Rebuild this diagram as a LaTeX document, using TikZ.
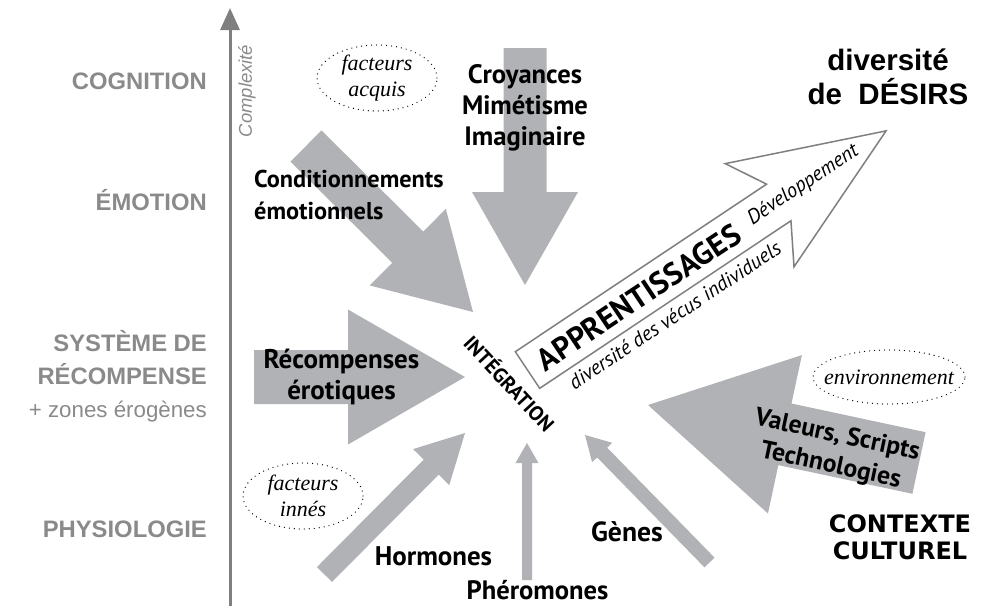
\documentclass[tikz,border=0pt]{standalone}
\usepackage{fontspec}
\usepackage{xcolor}
\definecolor{arrowGray}{HTML}{B1B2B5}
\definecolor{levelGray}{HTML}{8A8A8A}
\definecolor{axisGray}{HTML}{7F7F7F}
\newfontfamily\arialfont{Liberation Sans}
\newfontfamily\myriadfont{PT Sans}
\newfontfamily\timesfont{Liberation Serif}
\newfontfamily\widefont{DejaVu Sans}
\usetikzlibrary{positioning,arrows.meta,shapes.geometric,calc}

% block arrow from tail to tip: shaft half width, head half width, head length
\newcommand{\blockarrow}[5]{%
  \fill[arrowfill] let \p1=($(#2)-(#1)$), \n1={veclen(\x1,\y1)}, \n2={atan2(\y1,\x1)} in
    [shift={(#1)}, rotate=\n2]
    (0pt,#3pt) -- (\n1-#5pt,#3pt) -- (\n1-#5pt,#4pt) -- (\n1,0pt)
    -- (\n1-#5pt,-#4pt) -- (\n1-#5pt,-#3pt) -- (0pt,-#3pt) -- cycle;}
\newcommand{\fsz}[2]{\fontsize{#1}{#2}\selectfont}

\begin{document}
\begin{tikzpicture}[x=1pt, y=-1pt,
    arrowfill/.style={fill=arrowGray},
    axisline/.style={draw=axisGray, line width=3pt, -{Triangle[length=22pt,width=19pt]}},
    level/.style={font=\arialfont\bfseries\fsz{23.8}{28},
                  text=levelGray, anchor=base east, inner sep=0pt},
    sublevel/.style={font=\arialfont\fsz{22.3}{26},
                  text=levelGray, anchor=base east, inner sep=0pt},
    factor/.style={align=center, inner sep=0pt,
                   font=\timesfont\itshape\fsz{22}{26}},
    dots/.style={draw, line width=1.3pt, dash pattern=on 0pt off 5pt, line cap=round},
    influence/.style 2 args={font=\myriadfont\bfseries\fsz{#1}{#2},
                             inner sep=0pt, align=center},
    learntext/.style 2 args={font=\myriadfont#1\fsz{#2}{#2}, inner sep=0pt},
    bigtitle/.style={font=\arialfont\bfseries\fsz{29.5}{34},
                     inner sep=0pt, align=center},
    learnarrow/.style={draw=axisGray, fill=white, line width=1.5pt, line join=miter}]
  \useasboundingbox (0,0) rectangle (993,606);

  % axis of complexity
  \coordinate (axisbot) at (230,606);
  \coordinate (axistop) at (230,8);
  \draw[axisline] (axisbot) -- (axistop);
  \node[font=\arialfont\itshape\fsz{18.5}{20}, text=levelGray,
        rotate=90, inner sep=0pt] (cplx) at (247,91) {Complexité};

  % levels
  \node[level] (cog) at (207,89.3) {COGNITION};
  \node[level] (emo) at (207,210) {ÉMOTION};
  \node[level] (sys) at (207,351.7) {SYSTÈME DE};
  \node[level] (rec) at (207,384.3) {RÉCOMPENSE};
  \node[sublevel] (zon) at (207,417.7) {+ zones érogènes};
  \node[level] (phy) at (207,537.3) {PHYSIOLOGIE};

  % gray arrows towards the integration
  \coordinate (condTail) at (306,146);   \coordinate (condTip) at (473,312);
  \coordinate (croyTail) at (525,48);    \coordinate (croyTip) at (525,285);
  \coordinate (recTail) at (254,377);    \coordinate (recTip) at (465,377);
  \coordinate (hormTail) at (324.5,574.5); \coordinate (hormTip) at (465,433);
  \coordinate (pherTail) at (527,580);   \coordinate (pherTip) at (527,443);
  \coordinate (genTail) at (709.5,562.5); \coordinate (genTip) at (585,435);
  \coordinate (valTail) at (919,463);    \coordinate (valTip) at (648,405);
  \blockarrow{condTail}{condTip}{22}{54}{92}
  \blockarrow{croyTail}{croyTip}{21.5}{53}{93}
  \blockarrow{recTail}{recTip}{27}{67.5}{117}
  \blockarrow{hormTail}{hormTip}{10.6}{25.5}{48}
  \blockarrow{pherTail}{pherTip}{5}{11.5}{20}
  \blockarrow{genTail}{genTip}{7}{14}{24.5}
  \blockarrow{valTail}{valTip}{31.5}{81}{140}

  % factors
  \node[factor] (acquis) at (377,78) {facteurs\\acquis};
  \draw[dots] (acquis.center) ellipse [x radius=60pt, y radius=33pt];
  \node[factor] (innes) at (303,496) {facteurs\\innés};
  \draw[dots] (innes.center) ellipse [x radius=60pt, y radius=33pt];
  \node[factor] (envir) at (889,377) {environnement};
  \draw[dots] (envir.center) ellipse [x radius=76pt, y radius=27pt];

  % influences
  \node[influence={26.6}{31.2}] (croy) at (525,108) {Croyances\\Mimétisme\\Imaginaire};
  \node[influence={24.3}{31.6}, align=left, anchor=west] (cond) at (254,195) {Conditionnements\\émotionnels};
  \node[influence={27}{31}] (recomp) at (341.5,377) {Récompenses\\érotiques};
  \node[influence={26.9}{30}, anchor=base] (horm) at (433.5,565) {Hormones};
  \node[influence={26.6}{30}, anchor=base] (pher) at (537.5,599) {Phéromones};
  \node[influence={27.7}{30}, anchor=base] (gen) at (627,541.7) {Gènes};
  \node[influence={25.6}{31}, rotate=-12] (val) at (834,451) {Valeurs, Scripts\\Technologies};
  \node[influence={24}{27}, font=\widefont\bfseries\fsz{24}{27}] (ctx) at (900,537) {CONTEXTE\\CULTUREL};
  \node[bigtitle] (desirs) at (888,77) {diversité\\de~~DÉSIRS};

  % integration
  \node[influence={20.5}{22}, rotate=-47] (integ) at (510,383) {INTÉGRATION};

  % learning arrow
  \begin{scope}[shift={(527.5,370)}, rotate=33.7, transform shape]
    \draw[learnarrow] (0pt,22pt) -- (302pt,22pt) -- (279pt,62pt) -- (431pt,0pt)
      -- (279pt,-62pt) -- (302pt,-22pt) -- (0pt,-22pt) -- cycle;
    \node[learntext={\bfseries}{31}] (appr) at (133pt,-1pt) {APPRENTISSAGES};
    \node[learntext={\itshape}{20.5}] (dev) at (332pt,1pt) {Développement};
    \node[learntext={\itshape}{20.5}] (vecus) at (153pt,-36pt) {diversité des vécus individuels};
  \end{scope}
\end{tikzpicture}
\end{document}
